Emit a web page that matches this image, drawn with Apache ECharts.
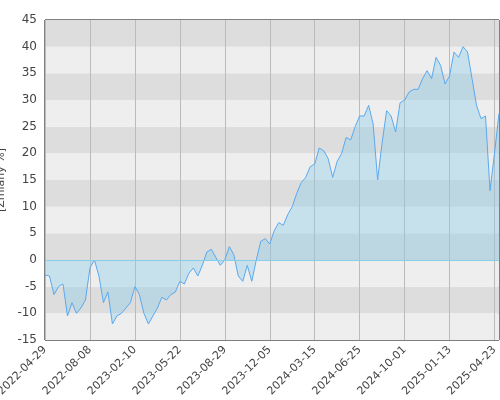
<!DOCTYPE html>
<html>
<head>
<meta charset="utf-8">
<script src="https://cdn.jsdelivr.net/npm/echarts@6/dist/echarts.min.js"></script>
<style>html,body{margin:0;padding:0;background:#fff}#chart{width:500px;height:400px}</style>
</head>
<body>
<div id="chart"></div>
<script>
// tick labels, one every 10 points
const tickLabels = ['2022-04-29', '2022-08-08', '2023-02-10', '2023-05-22', '2023-08-29', '2023-12-05',
    '2024-03-15', '2024-06-25', '2024-10-01', '2025-01-13', '2025-04-23'];
const labelStep = 10;

// percent change
const values = [
    -2.8, -3, -6.5, -5, -4.5, -10.5, -8, -10, -9, -7.5,
    -1.5, 0, -3, -8, -6, -12, -10.5, -10, -9, -8,
    -5, -6.5, -10, -12, -10.5, -9, -7, -7.5, -6.5, -6,
    -4, -4.5, -2.5, -1.5, -3, -1, 1.5, 2, 0.5, -1,
    0, 2.5, 1, -3, -4, -1, -4, 0, 3.5, 4,
    3, 5.5, 7, 6.5, 8.5, 10, 12.5, 14.5, 15.5, 17.5,
    18, 21, 20.5, 19, 15.5, 18.5, 20, 23, 22.5, 25,
    27, 27, 29, 25.5, 15, 22, 28, 27, 24, 29.5,
    30, 31.5, 32, 32, 34, 35.5, 34, 38, 36.5, 33,
    34.5, 39, 38, 40, 39, 34, 29, 26.5, 27, 13,
    20, 27.5
];

const categories = values.map((v, i) => (i % labelStep === 0 ? tickLabels[i / labelStep] : ''));

const chart = echarts.init(document.getElementById('chart'));
chart.setOption({
    animation: false,
    textStyle: { fontFamily: 'DejaVu Sans' },
    grid: {
        left: 45, right: 1, top: 20, bottom: 60, containLabel: false, outerBoundsMode: 'none',
        show: true, borderColor: '#000', borderWidth: 1, backgroundColor: 'transparent'
    },
    xAxis: {
        type: 'category',
        data: categories,
        boundaryGap: false,
        axisLine: { show: false },
        axisTick: { show: false },
        axisLabel: { interval: labelStep - 1, rotate: 45, fontSize: 11, color: '#444', margin: 8, fontFamily: 'DejaVu Sans' },
        splitLine: { show: true, interval: labelStep - 1, lineStyle: { color: '#bbb', width: 1 } }
    },
    yAxis: {
        type: 'value',
        min: -15, max: 45, interval: 5,
        name: '[Zmiany %]',
        nameLocation: 'middle',
        nameGap: 30,
        nameTextStyle: { fontSize: 11, color: '#444', fontFamily: 'DejaVu Sans' },
        axisLine: { show: false },
        axisTick: { show: false },
        axisLabel: { fontSize: 12, color: '#444', margin: 8, fontFamily: 'DejaVu Sans' },
        splitLine: { show: false },
        splitArea: { show: true, areaStyle: { color: ['#eeeeee', '#dddddd'] } }
    },
    series: [{
        type: 'line',
        data: values,
        symbol: 'none',
        lineStyle: { color: '#5aa9f0', width: 1 },
        areaStyle: { color: 'rgba(135,206,235,0.55)', origin: 0 },
        markLine: {
            silent: true, symbol: 'none', label: { show: false },
            lineStyle: { color: '#87ceeb', type: 'solid', width: 1 },
            data: [{ yAxis: 0 }]
        }
    }]
});
</script>
</body>
</html>
